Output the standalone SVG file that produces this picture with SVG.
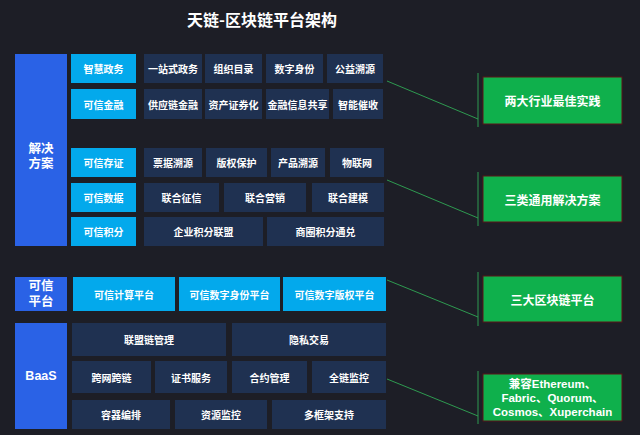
<svg xmlns="http://www.w3.org/2000/svg" width="640" height="435" viewBox="0 0 640 435">
<style>
text{font-family:"Noto Sans CJK SC","Liberation Sans",sans-serif;font-weight:bold;fill:#fff;text-anchor:middle;dominant-baseline:central}
.s{font-size:10px}
.l{font-size:12.5px;font-family:"Liberation Sans","Noto Sans CJK SC",sans-serif}
.g{font-size:12px}
.blue{fill:#2a62e6}
.cyan{fill:#03a9ec}
.dark{fill:#1f3151}
.grn{fill:#0fb04c;stroke:#5a1418;stroke-width:1}
.cn{stroke:#2e9a50;stroke-width:1;fill:none}
.en{font-family:"Liberation Sans","Noto Sans CJK SC",sans-serif;font-size:11.5px}
</style>
<rect width="640" height="435" fill="#1d1e26"/>
<text x="262" y="19" style="font-size:16px">天链-区块链平台架构</text>

<g id="left-solution"><rect class="blue" x="15" y="54" width="52" height="192"/><text class="l" x="41" y="149">解决<tspan x="41" dy="15">方案</tspan></text></g>
<g id="left-platform"><rect class="blue" x="15" y="277" width="52" height="34"/><text class="l" x="41" y="286">可信<tspan x="41" dy="16">平台</tspan></text></g>
<g id="left-baas"><rect class="blue" x="15" y="323" width="52" height="106"/><text class="l" x="41" y="376">BaaS</text></g>

<g id="r1">
<g id="n-zhhzw"><rect class="cyan" x="71" y="54" width="65" height="29"/><text class="s" x="103.5" y="68.5">智慧政务</text></g>
<g id="n-yzszw"><rect class="dark" x="144" y="54" width="58" height="29"/><text class="s" x="173" y="68.5">一站式政务</text></g>
<g id="n-zzml"><rect class="dark" x="205" y="54" width="57" height="29"/><text class="s" x="233.5" y="68.5">组织目录</text></g>
<g id="n-szsf"><rect class="dark" x="266" y="54" width="57" height="29"/><text class="s" x="294.5" y="68.5">数字身份</text></g>
<g id="n-gysy"><rect class="dark" x="327" y="54" width="56" height="29"/><text class="s" x="355" y="68.5">公益溯源</text></g>
</g>
<g id="r2">
<g id="n-kxjr"><rect class="cyan" x="71" y="89" width="65" height="30"/><text class="s" x="103.5" y="104">可信金融</text></g>
<g id="n-gyljr"><rect class="dark" x="144" y="89" width="58" height="30"/><text class="s" x="173" y="104">供应链金融</text></g>
<g id="n-zczqh"><rect class="dark" x="205" y="89" width="57" height="30"/><text class="s" x="233.5" y="104">资产证券化</text></g>
<g id="n-jrxxgx"><rect class="dark" x="266" y="89" width="63" height="30"/><text class="s" x="297.5" y="104">金融信息共享</text></g>
<g id="n-zncs"><rect class="dark" x="333" y="89" width="50" height="30"/><text class="s" x="358" y="104">智能催收</text></g>
</g>
<g id="r3">
<g id="n-kxcz"><rect class="cyan" x="71" y="148" width="65" height="29"/><text class="s" x="103.5" y="162.5">可信存证</text></g>
<g id="n-pjsy"><rect class="dark" x="144" y="148" width="58" height="29"/><text class="s" x="173" y="162.5">票据溯源</text></g>
<g id="n-bqbh"><rect class="dark" x="206" y="148" width="61" height="29"/><text class="s" x="236.5" y="162.5">版权保护</text></g>
<g id="n-cpsy"><rect class="dark" x="271" y="148" width="54" height="29"/><text class="s" x="298" y="162.5">产品溯源</text></g>
<g id="n-wlw"><rect class="dark" x="330" y="148" width="54" height="29"/><text class="s" x="357" y="162.5">物联网</text></g>
</g>
<g id="r4">
<g id="n-kxsj"><rect class="cyan" x="71" y="183" width="65" height="29"/><text class="s" x="103.5" y="197.5">可信数据</text></g>
<g id="n-lhzx"><rect class="dark" x="144" y="183" width="75" height="29"/><text class="s" x="181.5" y="197.5">联合征信</text></g>
<g id="n-lhyx"><rect class="dark" x="224" y="183" width="82" height="29"/><text class="s" x="265" y="197.5">联合营销</text></g>
<g id="n-lhjm"><rect class="dark" x="312" y="183" width="72" height="29"/><text class="s" x="348" y="197.5">联合建模</text></g>
</g>
<g id="r5">
<g id="n-kxjf"><rect class="cyan" x="71" y="217" width="65" height="29"/><text class="s" x="103.5" y="231.5">可信积分</text></g>
<g id="n-qyjflm"><rect class="dark" x="144" y="217" width="119" height="29"/><text class="s" x="203.5" y="231.5">企业积分联盟</text></g>
<g id="n-sqjftd"><rect class="dark" x="267" y="217" width="117" height="29"/><text class="s" x="325.5" y="231.5">商圈积分通兑</text></g>
</g>
<g id="r6">
<g id="n-kxjspt"><rect class="cyan" x="73" y="277" width="102" height="34"/><text class="s" x="124" y="294">可信计算平台</text></g>
<g id="n-kxszsfpt"><rect class="cyan" x="179" y="277" width="101" height="34"/><text class="s" x="229.5" y="294">可信数字身份平台</text></g>
<g id="n-kxszbqpt"><rect class="cyan" x="283" y="277" width="103" height="34"/><text class="s" x="334.5" y="294">可信数字版权平台</text></g>
</g>
<g id="r7">
<g id="n-lmlgl"><rect class="dark" x="72" y="323" width="154" height="33"/><text class="s" x="149" y="339.5">联盟链管理</text></g>
<g id="n-ysjy"><rect class="dark" x="232" y="323" width="154" height="33"/><text class="s" x="309" y="339.5">隐私交易</text></g>
</g>
<g id="r8">
<g id="n-kwkl"><rect class="dark" x="72" y="361" width="79" height="32"/><text class="s" x="111.5" y="377">跨网跨链</text></g>
<g id="n-zsfw"><rect class="dark" x="155" y="361" width="72" height="32"/><text class="s" x="191" y="377">证书服务</text></g>
<g id="n-hygl"><rect class="dark" x="232" y="361" width="75" height="32"/><text class="s" x="269.5" y="377">合约管理</text></g>
<g id="n-qljk"><rect class="dark" x="312" y="361" width="74" height="32"/><text class="s" x="349" y="377">全链监控</text></g>
</g>
<g id="r9">
<g id="n-rqbp"><rect class="dark" x="72" y="400" width="98" height="29"/><text class="s" x="121" y="414.5">容器编排</text></g>
<g id="n-zyjk"><rect class="dark" x="175" y="400" width="92" height="29"/><text class="s" x="221" y="414.5">资源监控</text></g>
<g id="n-dkjzc"><rect class="dark" x="272" y="400" width="114" height="29"/><text class="s" x="329" y="414.5">多框架支持</text></g>
</g>

<g id="connectors">
<path class="cn" d="M478,73V127M387,81L478,119"/>
<path class="cn" d="M478,172V226M387,180L478,218"/>
<path class="cn" d="M478,272V326M387,280L478,317"/>
<path class="cn" d="M478,371V424M387,379L478,416"/>
</g>

<g id="g1"><rect class="grn" x="483" y="77" width="139" height="47"/><text class="g" x="552.5" y="100.5">两大行业最佳实践</text></g>
<g id="g2"><rect class="grn" x="483" y="176" width="139" height="46"/><text class="g" x="552.5" y="199">三类通用解决方案</text></g>
<g id="g3"><rect class="grn" x="483" y="276" width="139" height="46"/><text class="g" x="552.5" y="299">三大区块链平台</text></g>
<g id="g4"><rect class="grn" x="483" y="374" width="139" height="47"/>
<text class="en" x="552.5" y="384">兼容Ethereum、<tspan x="552.5" dy="14">Fabric、Quorum、</tspan><tspan x="552.5" dy="14">Cosmos、Xuperchain</tspan></text></g>
</svg>
